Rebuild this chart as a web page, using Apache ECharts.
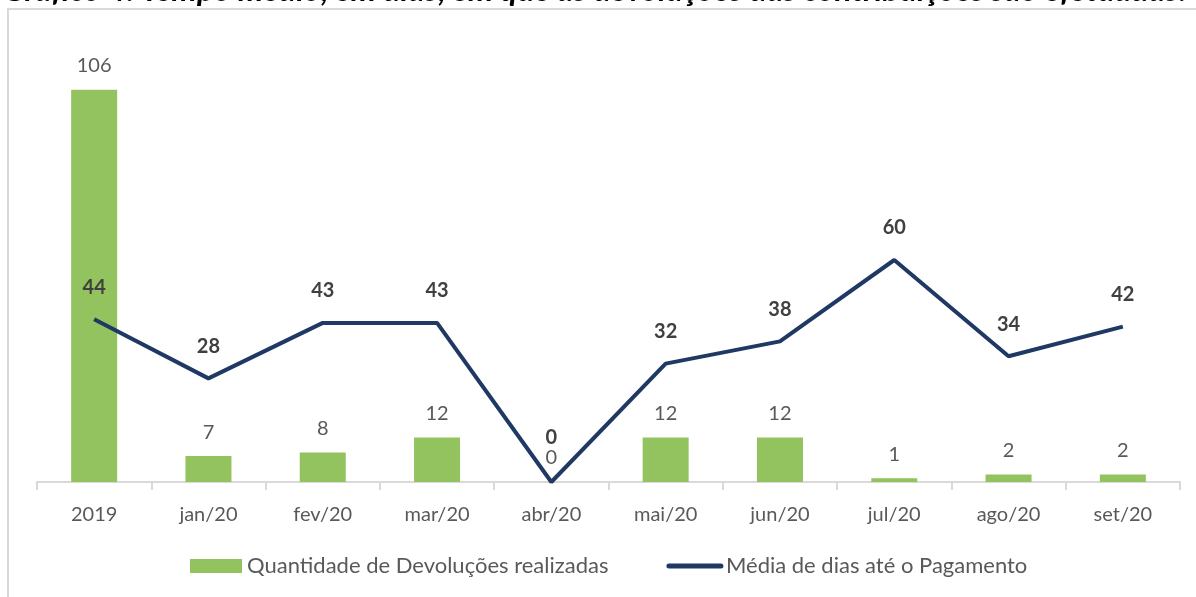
<!DOCTYPE html>
<html>
<head>
<meta charset="utf-8">
<script src="https://cdn.jsdelivr.net/npm/echarts@6/dist/echarts.min.js"></script>
<style>html,body{margin:0;padding:0;background:#fff;}#c{width:1196px;height:597px;}</style>
</head>
<body>
<div id="c"></div>
<script>
const categories = ['2019','jan/20','fev/20','mar/20','abr/20','mai/20','jun/20','jul/20','ago/20','set/20'];
const devolucoes = [106, 7, 8, 12, 0, 12, 12, 1, 2, 2];
const mediaDias = [44, 28, 43, 43, 0, 32, 38, 60, 34, 42];
const titleText = 'Gráfico 4: Tempo médio, em dias, em que as devoluções das contribuições são efetuadas:';
const seriesNames = ['Quantidade de Devoluções realizadas', 'Média de dias até o Pagamento'];

const FONT = 'Lato';
const chart = echarts.init(document.getElementById('c'), null, {renderer: 'canvas'});
chart.setOption({
  animation: false,
  backgroundColor: '#ffffff',
  textStyle: {fontFamily: FONT},
  graphic: [
    {type: 'rect', shape: {x: 8, y: 9, width: 1200, height: 600}, style: {fill: 'none', stroke: '#d9d9d9', lineWidth: 2}, z: -1},
    {type: 'text', x: 3, y: 7, style: {text: titleText, font: 'italic bold 32px Lato', fill: '#000', verticalAlign: 'bottom'}}
  ],
  grid: {left: 37, right: 16, top: 38, bottom: 115},
  legend: {
    top: 550,
    left: 185,
    itemWidth: 52,
    itemHeight: 14,
    itemGap: 58,
    textStyle: {fontFamily: FONT, fontSize: 22, color: '#595959'},
    data: [
      {name: seriesNames[0], icon: 'rect'},
      {name: seriesNames[1], itemStyle: {opacity: 0}, lineStyle: {width: 5, cap: 'round', color: '#1f3864'}}
    ]
  },
  xAxis: {
    type: 'category',
    data: categories,
    axisLine: {lineStyle: {color: '#d9d9d9', width: 2}},
    axisTick: {show: true, length: 8, lineStyle: {color: '#d9d9d9', width: 2}},
    axisLabel: {color: '#595959', fontSize: 20, margin: 23, fontFamily: FONT}
  },
  yAxis: {
    type: 'value', min: 0, max: 120,
    show: false,
    splitLine: {show: false}
  },
  series: [
    {
      name: seriesNames[0],
      type: 'bar',
      data: devolucoes,
      barWidth: 46,
      itemStyle: {color: '#92c35f'},
      label: {show: true, position: 'top', distance: 14, color: '#595959', fontSize: 20, fontFamily: FONT}
    },
    {
      name: seriesNames[1],
      type: 'line',
      data: mediaDias.map((v, i) => v === 0 ? {value: v, label: {distance: 34}} : v),
      symbol: 'circle',
      symbolSize: 0,
      showSymbol: true,
      lineStyle: {color: '#1f3864', width: 4},
      itemStyle: {color: '#1f3864'},
      label: {show: true, position: 'top', distance: 22, color: '#404040', fontSize: 20, fontWeight: 'bold', fontFamily: FONT},
      z: 3
    }
  ]
});
</script>
</body>
</html>
